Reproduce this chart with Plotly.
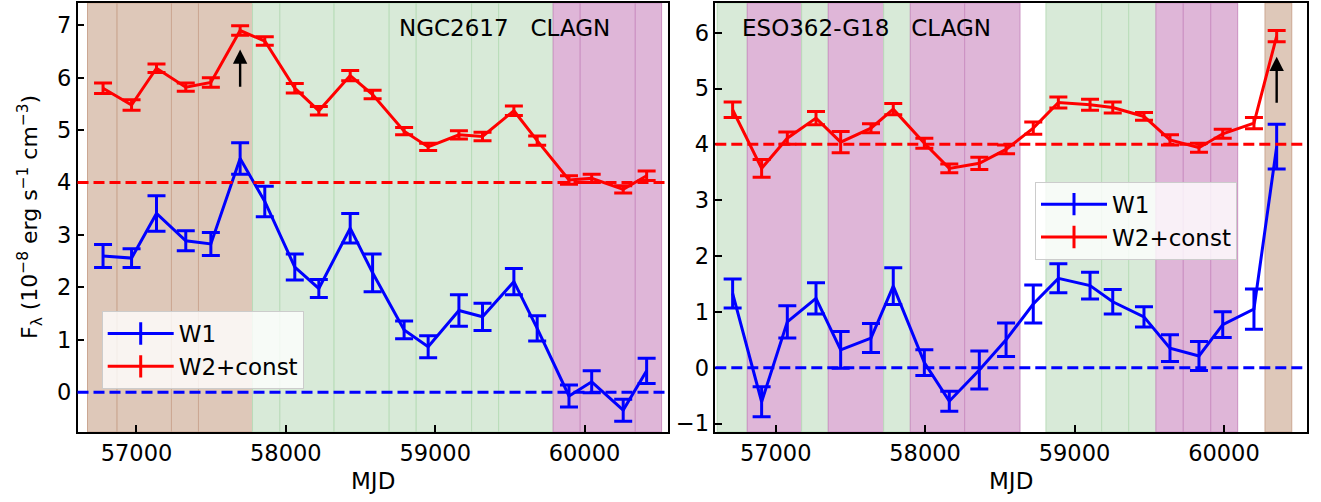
import plotly.graph_objects as go

# ---------------- data ----------------
left_mjd = [56776, 56967, 57134, 57330, 57498, 57694, 57859, 58060, 58221, 58431, 58581,
            58792, 58953, 59159, 59317, 59527, 59683, 59896, 60048, 60259, 60416]
left_w1 = [2.60, 2.56, 3.41, 2.89, 2.83, 4.46, 3.64, 2.39, 1.98, 3.13, 2.28,
           1.19, 0.87, 1.56, 1.44, 2.11, 1.22, -0.07, 0.20, -0.34, 0.41]
left_w1_err = [0.22, 0.18, 0.34, 0.19, 0.22, 0.30, 0.29, 0.25, 0.17, 0.28, 0.36,
               0.17, 0.21, 0.30, 0.26, 0.25, 0.24, 0.21, 0.21, 0.21, 0.24]
left_w2 = [5.80, 5.48, 6.18, 5.82, 5.91, 6.90, 6.70, 5.80, 5.37, 6.04, 5.68,
           4.98, 4.68, 4.91, 4.88, 5.37, 4.80, 4.05, 4.08, 3.87, 4.13]
left_w2_err = [0.10, 0.10, 0.08, 0.08, 0.09, 0.09, 0.08, 0.09, 0.08, 0.10, 0.08,
               0.07, 0.07, 0.08, 0.08, 0.09, 0.09, 0.08, 0.08, 0.07, 0.09]

right_mjd = [56712, 56906, 57078, 57270, 57435, 57638, 57787, 57995, 58162, 58363, 58542,
             58724, 58892, 59104, 59256, 59465, 59639, 59833, 59992, 60201, 60353]
right_w1 = [1.33, -0.61, 0.82, 1.24, 0.32, 0.53, 1.46, 0.09, -0.60, -0.04, 0.50,
            1.14, 1.60, 1.47, 1.18, 0.91, 0.35, 0.21, 0.77, 1.05, 3.96]
right_w1_err = [0.26, 0.27, 0.29, 0.28, 0.33, 0.26, 0.33, 0.23, 0.18, 0.34, 0.30,
                0.34, 0.26, 0.24, 0.22, 0.18, 0.24, 0.26, 0.23, 0.36, 0.40]
right_w2 = [4.62, 3.57, 4.11, 4.47, 4.04, 4.29, 4.63, 4.02, 3.57, 3.66, 3.91,
            4.29, 4.75, 4.71, 4.66, 4.50, 4.08, 3.94, 4.19, 4.38, 5.94]
right_w2_err = [0.14, 0.16, 0.11, 0.12, 0.19, 0.08, 0.10, 0.09, 0.08, 0.11, 0.08,
                0.11, 0.10, 0.10, 0.10, 0.07, 0.09, 0.08, 0.08, 0.10, 0.10]

# state spans: (start, end, state)
left_spans = [(56672, 56870, "b"), (56870, 57234, "b"), (57234, 57415, "b"), (57415, 57777, "b"),
              (57777, 57960, "g"), (57960, 58323, "g"), (58323, 58692, "g"), (58692, 58873, "g"),
              (58873, 59244, "g"), (59244, 59425, "g"), (59425, 59790, "g"),
              (59790, 59971, "p"), (59971, 60340, "p"), (60340, 60516, "p")]
right_spans = [(56609, 56810, "g"), (56810, 57174, "p"), (57174, 57352, "g"), (57352, 57723, "p"),
               (57723, 57901, "g"), (57901, 58265, "p"), (58265, 58635, "p"),
               (58809, 59182, "g"), (59182, 59363, "g"), (59363, 59545, "g"),
               (59545, 59728, "p"), (59728, 59912, "p"), (59912, 60092, "p"),
               (60275, 60454, "b")]

left_title = "NGC2617\u00a0\u00a0\u00a0CLAGN"
right_title = "ESO362-G18\u00a0\u00a0\u00a0CLAGN"
x_ticks = [57000, 58000, 59000, 60000]
left_y_ticks = [0, 1, 2, 3, 4, 5, 6, 7]
right_y_ticks = [-1, 0, 1, 2, 3, 4, 5, 6]
left_arrow = (57694, 5.80, 6.54)
right_arrow = (60353, 4.72, 5.57)

# ---------------- styles ----------------
FONT = "DejaVu Sans"
FS = 23
LW = 3
fill = {"b": "#dec8b9", "g": "#d8ead8", "p": "#dfb6d8"}
edge = {"b": "#cba792", "g": "#b9dcb9", "p": "#cb90c2"}

fig = go.Figure()


def add_panel(mjd, w1, w1e, w2, w2e, xa, ya, legend):
    fig.add_trace(go.Scatter(
        x=mjd, y=w1, mode="lines", line=dict(color="#0000ff", width=LW),
        error_y=dict(type="data", array=w1e, color="#0000ff", thickness=LW, width=9),
        xaxis=xa, yaxis=ya, showlegend=False, hoverinfo="skip"))
    fig.add_trace(go.Scatter(
        x=mjd, y=w2, mode="lines", line=dict(color="#ff0000", width=LW),
        error_y=dict(type="data", array=w2e, color="#ff0000", thickness=LW, width=9),
        xaxis=xa, yaxis=ya, showlegend=False, hoverinfo="skip"))
    # legend-only entries
    for name, col in (("W1", "#0000ff"), ("W2+const", "#ff0000")):
        fig.add_trace(go.Scatter(
            x=[None], y=[None], mode="lines+markers", name=name,
            line=dict(color=col, width=LW),
            marker=dict(symbol="line-ns-open", size=16, color=col,
                        line=dict(color=col, width=LW)),
            xaxis=xa, yaxis=ya, legend=legend))


add_panel(left_mjd, left_w1, left_w1_err, left_w2, left_w2_err, "x", "y", "legend")
add_panel(right_mjd, right_w1, right_w1_err, right_w2, right_w2_err, "x2", "y2", "legend2")

shapes = []
for spans, xr, yr in ((left_spans, "x", "y domain"), (right_spans, "x2", "y2 domain")):
    for (a, b, s) in spans:
        shapes.append(dict(type="rect", xref=xr, yref=yr, x0=a, x1=b, y0=0, y1=1,
                           fillcolor=fill[s], line=dict(color=edge[s], width=1),
                           layer="below"))
for xr, yr in (("x domain", "y"), ("x2 domain", "y2")):
    shapes.append(dict(type="line", xref=xr, yref=yr, x0=0, x1=1, y0=4, y1=4,
                       line=dict(color="#ff0000", width=LW, dash="11px,5px")))
    shapes.append(dict(type="line", xref=xr, yref=yr, x0=0, x1=1, y0=0, y1=0,
                       line=dict(color="#0000ff", width=LW, dash="11px,5px")))

annotations = []
for (ax_, xr, yr) in ((left_arrow, "x", "y"), (right_arrow, "x2", "y2")):
    xm, y0, y1 = ax_
    annotations.append(dict(x=xm, y=y1, ax=xm, ay=y0, xref=xr, yref=yr, axref=xr, ayref=yr,
                            showarrow=True, arrowhead=2, arrowsize=1.2, arrowwidth=2.4,
                            arrowcolor="black", text=""))
annotations.append(dict(x=58741, y=6.94, xref="x", yref="y", text=left_title, showarrow=False,
                        xanchor="left", yanchor="middle", font=dict(family=FONT, size=FS, color="black")))
annotations.append(dict(x=56761, y=6.08, xref="x2", yref="y2", text=right_title, showarrow=False,
                        xanchor="left", yanchor="middle", font=dict(family=FONT, size=FS, color="black")))
for xc in ((77.5 + 668) / 2 / 1321, (715.3 + 1306.7) / 2 / 1321):
    annotations.append(dict(x=xc, y=1 - 481 / 502, xref="paper", yref="paper", text="MJD",
                            showarrow=False, xanchor="center", yanchor="middle",
                            font=dict(family=FONT, size=FS, color="black")))
annotations.append(dict(x=30 / 1321, y=1 - 217 / 502, xref="paper", yref="paper",
                        text="F<sub>λ</sub> (10<sup>−8</sup> erg s<sup>−1</sup> cm<sup>−3</sup>)",
                        textangle=-90, showarrow=False, xanchor="center", yanchor="middle",
                        font=dict(family=FONT, size=FS - 1, color="black")))

axis_common = dict(showgrid=False, zeroline=False, showline=True, linecolor="black",
                   linewidth=1.5, mirror=True, ticks="inside", ticklen=7, tickwidth=1.5,
                   tickcolor="black", tickfont=dict(family=FONT, size=FS - 0.5, color="black"),
                   automargin=False)
ydom = [1 - 432 / 502, 1 - 3 / 502]

fig.update_layout(
    width=1321, height=502, margin=dict(l=0, r=0, t=0, b=0),
    paper_bgcolor="white", plot_bgcolor="white",
    font=dict(family=FONT, size=FS, color="black"),
    xaxis=dict(domain=[77.5 / 1321, 668 / 1321], range=[56605, 60559],
               tickvals=x_ticks, ticktext=[str(t) for t in x_ticks], **axis_common),
    yaxis=dict(domain=ydom, range=[-0.757, 7.425], tickvals=left_y_ticks, **axis_common),
    xaxis2=dict(domain=[715.3 / 1321, 1306.7 / 1321], range=[56596, 60554], anchor="y2",
                tickvals=x_ticks, ticktext=[str(t) for t in x_ticks], **axis_common),
    yaxis2=dict(domain=ydom, range=[-1.152, 6.532], anchor="x2", tickvals=right_y_ticks,
                **axis_common),
    legend=dict(x=101.7 / 1321, y=1 - 311 / 502, xanchor="left", yanchor="top",
                bgcolor="rgba(255,255,255,0.8)", bordercolor="#cccccc", borderwidth=1,
                font=dict(family=FONT, size=FS, color="black"), itemwidth=66),
    legend2=dict(x=1035 / 1321, y=1 - 181.7 / 502, xanchor="left", yanchor="top",
                 bgcolor="rgba(255,255,255,0.8)", bordercolor="#cccccc", borderwidth=1,
                 font=dict(family=FONT, size=FS, color="black"), itemwidth=66),
    shapes=shapes, annotations=annotations,
)

fig.write_html("out.html", config={"displayModeBar": False},
               post_script="document.body.style.margin='0px';document.body.style.overflow='hidden';")
